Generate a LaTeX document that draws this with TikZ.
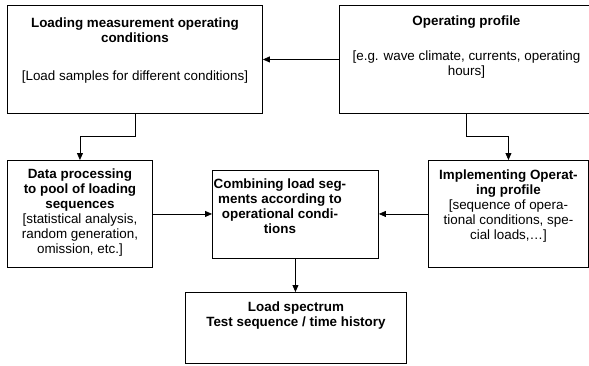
\documentclass[tikz,border=0pt]{standalone}
\usepackage{fontspec}
\setmainfont{Liberation Sans}
\usetikzlibrary{arrows.meta, positioning}
\newcommand{\boxtext}[4]{\parbox[t][#2][t]{#1}{\centering\vspace*{#3}#4}}
\tikzstyle{stage} = [draw, line width=0.9pt, inner sep=0pt, anchor=north west, font=\fontsize{13.4}{15}\selectfont]
\tikzstyle{arrow} = [line width=0.8pt, -{Triangle[length=7pt, width=6pt]}]

\begin{document}
\begin{tikzpicture}[x=1pt, y=-1pt]
  \fill[white] (0,0) rectangle (589,365);
  \useasboundingbox (0,0) rectangle (589,365);

  \node[stage] (meas) at (7,5) {\boxtext{255pt}{108pt}{12pt}{\textbf{Loading measurement operating\\conditions}\\[23pt][Load samples for different conditions]}};
  \node[stage] (prof) at (339,5) {\boxtext{254pt}{108pt}{10pt}{\textbf{Operating profile}\\[20pt][e.g. wave climate, currents, operating\\hours]}};
  \node[stage] (proc) at (7,160) {\boxtext{145pt}{107pt}{8pt}{\textbf{Data processing\\to pool of loading\\sequences}\\{}[statistical analysis,\\random generation,\\omission, etc.]}};
  \node[stage] (comb) at (212,170) {\parbox[t][88pt][t]{166pt}{\vspace*{8pt}\parbox[t]{135pt}{\centering\bfseries Combining load seg-\\ments according to\\operational condi-\\tions}}};
  \node[stage] (impl) at (428,160) {\boxtext{160pt}{107pt}{9pt}{\textbf{Implementing Operat-\\ing profile}\\{}[sequence of opera-\\tional conditions, spe-\\cial loads,\ldots]}};
  \node[stage] (spec) at (185,292) {\boxtext{221pt}{71pt}{9pt}{\textbf{Load spectrum\\Test sequence / time history}}};

  \draw[arrow] (prof.west) -- (meas.east);
  \draw[arrow] (meas.south) -- ++(0,22) -| (proc.north);
  \draw[arrow] (prof.south) -- ++(0,22) -| (impl.north);
  \draw[arrow] (proc.east) -- (proc.east -| comb.west);
  \draw[arrow] (impl.west) -- (impl.west -| comb.east);
  \draw[arrow] (comb.south) -- (comb.south |- spec.north);
\end{tikzpicture}
\end{document}
